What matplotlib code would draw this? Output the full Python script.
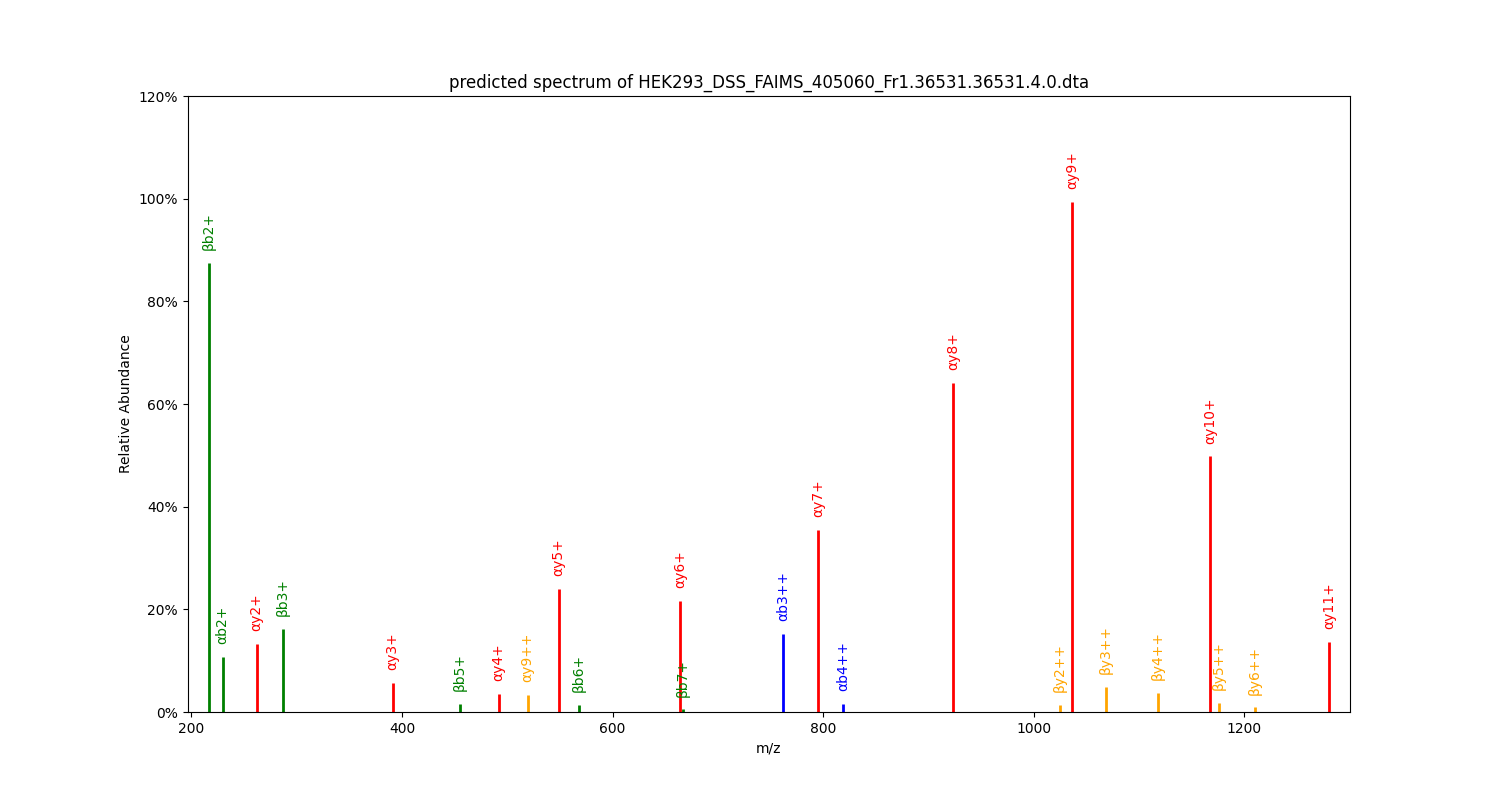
import matplotlib
matplotlib.use('Agg')
import matplotlib.pyplot as plt
from matplotlib.ticker import FuncFormatter

# peak m/z values, relative abundance (%), labels and colours
mz = [216.2, 229.5, 261.8, 286.5, 391.0, 454.8, 491.8, 519.4, 548.9, 568.0,
      663.9, 667.0, 761.8, 795.3, 818.8, 923.7, 1025.1, 1036.5, 1069.0,
      1118.5, 1167.9, 1175.9, 1210.4, 1280.7]
abundance = [87.5, 10.7, 13.2, 16.2, 5.6, 1.6, 3.5, 3.3, 23.9, 1.4,
             21.6, 0.5, 15.2, 35.4, 1.5, 64.1, 1.4, 99.3, 4.9,
             3.7, 49.8, 1.75, 0.9, 13.6]
labels = ['βb2+', 'αb2+', 'αy2+', 'βb3+', 'αy3+', 'βb5+', 'αy4+', 'αy9++', 'αy5+', 'βb6+',
          'αy6+', 'βb7+', 'αb3++', 'αy7+', 'αb4++', 'αy8+', 'βy2++', 'αy9+', 'βy3++',
          'βy4++', 'αy10+', 'βy5++', 'βy6++', 'αy11+']
colors = ['green', 'green', 'red', 'green', 'red', 'green', 'red', 'orange', 'red', 'green',
          'red', 'green', 'blue', 'red', 'blue', 'red', 'orange', 'red', 'orange',
          'orange', 'red', 'orange', 'orange', 'red']

fig, ax = plt.subplots(figsize=(15, 8), dpi=100)

ax.vlines(mz, 0, abundance, colors=colors, linewidth=2)
for x, y, lab, c in zip(mz, abundance, labels, colors):
    ax.text(x, y + 2.5, lab, color=c, rotation=90, ha='center', va='bottom', fontsize=10)

ax.set_xlim(min(mz) - 20, max(mz) + 20)
ax.set_ylim(0, 120)
ax.set_yticks(range(0, 121, 20))
ax.yaxis.set_major_formatter(FuncFormatter(lambda v, p: '%d%%' % v))
ax.set_xlabel('m/z')
ax.set_ylabel('Relative Abundance')
ax.set_title('predicted spectrum of HEK293_DSS_FAIMS_405060_Fr1.36531.36531.4.0.dta')

plt.savefig('out.png')
